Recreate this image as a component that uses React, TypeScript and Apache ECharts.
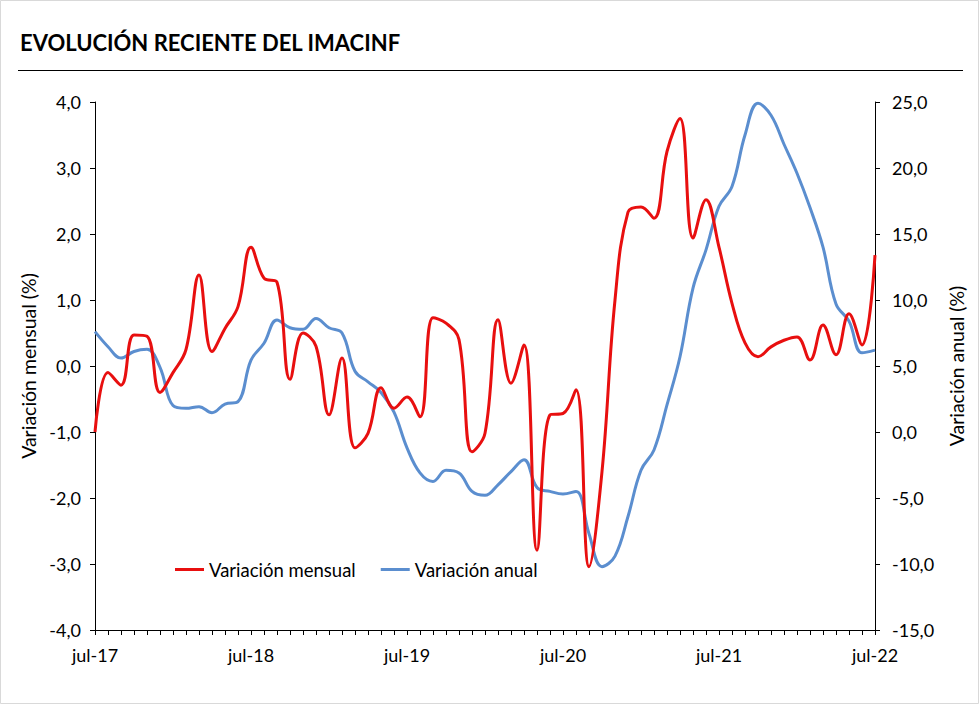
import React, { useEffect, useRef } from "react";
import * as echarts from "echarts";

const monthNames = ["ene", "feb", "mar", "abr", "may", "jun", "jul", "ago", "sep", "oct", "nov", "dic"];
const startYear = 2017;
const startMonth = 6; // jul
const monthCount = 61;

const categories: string[] = [];
for (let i = 0; i < monthCount; i++) {
  const m = (startMonth + i) % 12;
  const y = startYear + Math.floor((startMonth + i) / 12);
  categories.push(monthNames[m] + "-" + String(y).slice(2));
}

const variacionMensual = [
  -1.0, -0.1, -0.29, 0.47, 0.45, -0.4, -0.1, 0.25, 1.38, 0.22, 0.57, 0.9,
  1.8, 1.33, 1.27, -0.2, 0.5, 0.3, -0.74, 0.12, -1.24, -1.02, -0.33, -0.64,
  -0.47, -0.77, 0.73, 0.65, 0.4, -1.3, -1.02, 0.7, -0.26, 0.32, -2.79, -0.74,
  -0.72, -0.36, -3.04, -1.6, 1.0, 2.33, 2.41, 2.24, 3.25, 3.75, 1.94, 2.52,
  1.8, 0.95, 0.35, 0.14, 0.29, 0.39, 0.44, 0.09, 0.62, 0.17, 0.79, 0.32,
  1.68,
];

const variacionAnual = [
  7.6, 6.46, 5.6, 6.1, 6.26, 4.9, 2.0, 1.79, 1.92, 1.46, 2.12, 2.3,
  5.45, 6.72, 8.48, 7.9, 7.78, 8.6, 7.9, 7.5, 4.6, 3.8, 3.0, 1.5,
  -1.2, -3.1, -3.75, -2.9, -3.1, -4.5, -4.8, -4.0, -3.0, -2.1, -4.2, -4.5,
  -4.7, -4.5, -7.7, -10.2, -9.4, -6.4, -2.9, -1.36, 2.05, 5.7, 10.9, 13.8,
  17.1, 18.6, 22.5, 24.9, 24.0, 21.8, 19.6, 17.0, 14.0, 9.7, 8.4, 6.0,
  6.2,
];

const FONT = "Lato, 'Noto Sans', sans-serif";
const fmt = (v: number) => v.toFixed(1).replace(".", ",");

export default function App() {
  const ref = useRef<HTMLDivElement>(null);
  useEffect(() => {
    if (!ref.current) return;
    const chart = echarts.init(ref.current, null, { renderer: "svg" });
    chart.setOption({
      animation: false,
      backgroundColor: "#fff",
      title: {
        text: "EVOLUCIÓN RECIENTE DEL IMACINF",
        left: 20,
        top: 31,
        padding: 0,
        textStyle: { fontFamily: FONT, fontWeight: "bold", fontSize: 22, color: "#000" },
      },
      graphic: [
        {
          type: "rect",
          shape: { x: 0.5, y: 0.5, width: 978, height: 703 },
          style: { fill: "none", stroke: "#D9D9D9", lineWidth: 1 },
          silent: true,
        },
        {
          type: "line",
          shape: { x1: 18, y1: 70.5, x2: 963, y2: 70.5 },
          style: { stroke: "#000", lineWidth: 1 },
          silent: true,
        },
      ],
      legend: {
        left: 170,
        top: 555,
        icon: "rect",
        itemWidth: 29,
        itemHeight: 3,
        itemGap: 25,
        textStyle: { fontFamily: FONT, fontSize: 18.5, color: "#000" },
        data: ["Variación mensual", "Variación anual"],
      },
      grid: { left: 95, right: 104, top: 102, bottom: 74 },
      xAxis: {
        type: "category",
        data: categories,
        boundaryGap: false,
        axisLine: { onZero: false, lineStyle: { color: "#000", width: 1 } },
        axisTick: { interval: 0, length: 5, lineStyle: { color: "#000" } },
        axisLabel: {
          interval: 11,
          margin: 16,
          fontFamily: FONT,
          fontSize: 18,
          color: "#000",
        },
        splitLine: { show: false },
      },
      yAxis: [
        {
          type: "value",
          min: -4,
          max: 4,
          interval: 1,
          name: "Variación mensual (%)",
          nameLocation: "middle",
          nameGap: 56,
          nameTextStyle: { fontFamily: FONT, fontSize: 19.5, color: "#000" },
          axisLine: { show: true, lineStyle: { color: "#000" } },
          axisTick: { show: true, length: 5, lineStyle: { color: "#000" } },
          axisLabel: { margin: 14, fontFamily: FONT, fontSize: 18, color: "#000", formatter: fmt },
          splitLine: { show: false },
        },
        {
          type: "value",
          min: -15,
          max: 25,
          interval: 5,
          position: "right",
          name: "Variación anual (%)",
          nameLocation: "middle",
          nameGap: 71,
          nameTextStyle: { fontFamily: FONT, fontSize: 19.5, color: "#000" },
          axisLine: { show: true, lineStyle: { color: "#000" } },
          axisTick: { show: true, length: 5, lineStyle: { color: "#000" } },
          axisLabel: { margin: 17, fontFamily: FONT, fontSize: 18, color: "#000", formatter: fmt },
          splitLine: { show: false },
        },
      ],
      series: [
        {
          name: "Variación mensual",
          type: "line",
          yAxisIndex: 0,
          data: variacionMensual,
          smooth: 0.4,
          showSymbol: false,
          lineStyle: { color: "#E80F0F", width: 3 },
          itemStyle: { color: "#E80F0F" },
          z: 3,
        },
        {
          name: "Variación anual",
          type: "line",
          yAxisIndex: 1,
          data: variacionAnual,
          smooth: 0.4,
          showSymbol: false,
          lineStyle: { color: "#5B8ECF", width: 3 },
          itemStyle: { color: "#5B8ECF" },
          z: 2,
        },
      ],
    });
    return () => chart.dispose();
  }, []);
  return (
    <div
      ref={ref}
      style={{ position: "fixed", left: 0, top: 0, width: 979, height: 704 }}
    />
  );
}
